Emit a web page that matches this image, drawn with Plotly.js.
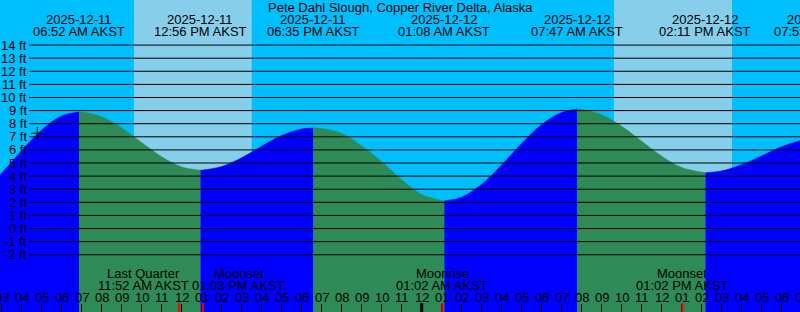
<!DOCTYPE html>
<html>
<head>
<meta charset="utf-8">
<script src="https://cdn.plot.ly/plotly-3.0.1.min.js"></script>
<style>html,body{margin:0;padding:0;background:#00BFFF;}#chart{width:800px;height:312px;}</style>
</head>
<body>
<div id="chart"></div>
<script>
// Hours since 2025-12-11 00:00 AKST, and tide level in feet
const tideTimes  = [2.915, 3, 4, 5, 6, 6.867, 7, 8, 9, 10, 11, 12, 12.933, 13, 14, 15, 16, 17, 18, 18.583,
                    19, 20, 21, 22, 23, 24, 25.133, 26, 27, 28, 29, 30, 31, 31.783, 32, 33, 34, 35, 36, 37,
                    38.183, 39, 40, 41, 42, 42.915];
const tideLevels = [4.10, 4.22, 5.94, 7.52, 8.59, 8.90, 8.89, 8.53, 7.68, 6.56, 5.48, 4.70, 4.45, 4.45, 4.73, 5.40, 6.28, 7.09, 7.59, 7.67,
                    7.63, 7.25, 6.30, 5.10, 3.72, 2.60, 2.10, 2.39, 3.37, 4.85, 6.49, 7.93, 8.86, 9.10, 9.09, 8.68, 7.80, 6.66, 5.52, 4.66,
                    4.26, 4.39, 4.86, 5.54, 6.24, 6.70];

// High / low tide events
const extremeTimes = [6.867, 12.933, 18.583, 25.133, 31.783, 38.183, 43.917];
const extremeDates = ['2025-12-11', '2025-12-11', '2025-12-11', '2025-12-12', '2025-12-12', '2025-12-12', '2025-12-12'];
const extremeClock = ['06:52 AM AKST', '12:56 PM AKST', '06:35 PM AKST', '01:08 AM AKST', '07:47 AM AKST', '02:11 PM AKST', '07:55 PM AKST'];

// Daylight
const sunriseTimes = [9.615, 33.615];
const sunsetTimes  = [15.50, 39.515];

// Moon events
const moonTimes  = [11.867, 13.05, 25.033, 37.033];
const moonNames  = ['Last Quarter', 'Moonset', 'Moonrise', 'Moonset'];
const moonClock  = ['11:52 AM AKST', '01:03 PM AKST', '01:02 AM AKST', '01:02 PM AKST'];

// Hour ticks
const hourTicks  = [3,4,5,6,7,8,9,10,11,12,13,14,15,16,17,18,19,20,21,22,23,24,25,26,27,28,29,30,31,32,33,34,35,36,37,38,39,40,41,42,43];
const hourLabels = ['03','04','05','06','07','08','09','10','11','12','01','02','03','04','05','06','07','08','09','10','11','12',
                    '01','02','03','04','05','06','07','08','09','10','11','12','01','02','03','04','05','06','07'];
const midnightTimes = [24];

// Level lines
const levelFeet = [-2,-1,0,1,2,3,4,5,6,7,8,9,10,11,12,13,14];

// Current-time mark
const nowTime = [4.78];
const nowLevel = [7.27];

const title = 'Pete Dahl Slough, Copper River Delta, Alaska';

// ---------- build ----------
const X_RANGE = [2.915, 42.915];
const Y_RANGE = [-6.37, 17.44];
const H = 312, W = 800;
const FONT = {family: 'Liberation Sans, Arial, sans-serif', size: 13, color: '#000'};
const BLUE = '#0000FF', GREEN = '#2E8B57';

const traces = [];
const bounds = [X_RANGE[0]].concat(extremeTimes.filter(t => t > X_RANGE[0] && t < X_RANGE[1])).concat([X_RANGE[1]]);
for (let s = 0; s < bounds.length - 1; s++) {
  const a = bounds[s], b = bounds[s + 1];
  const xs = [], ys = [];
  tideTimes.forEach((t, i) => { if (t >= a - 1e-9 && t <= b + 1e-9) { xs.push(t); ys.push(tideLevels[i]); } });
  const rising = ys[ys.length - 1] > ys[0];
  const col = rising ? BLUE : GREEN;
  traces.push({x: [a, b], y: [Y_RANGE[0] - 1, Y_RANGE[0] - 1], mode: 'lines', line: {width: 0}, hoverinfo: 'skip'});
  traces.push({x: xs, y: ys, mode: 'lines', line: {width: 0.6, color: col, shape: 'spline', smoothing: 1},
               fill: 'tonexty', fillcolor: col, hoverinfo: 'skip'});
}
traces.push({x: nowTime, y: nowLevel, mode: 'markers',
             marker: {symbol: 'cross-thin', size: 9, line: {width: 1, color: '#000'}}, hoverinfo: 'skip'});

const shapes = [];
sunriseTimes.forEach((t, i) => shapes.push({type: 'rect', xref: 'x', yref: 'paper', x0: t, x1: sunsetTimes[i], y0: 0, y1: 1,
  fillcolor: '#87CEEB', line: {width: 0}, layer: 'below'}));
levelFeet.forEach(v => shapes.push({type: 'line', xref: 'paper', yref: 'y', x0: 29.3 / W, x1: 1, y0: v, y1: v,
  line: {color: '#000', width: 1}, layer: 'above'}));
midnightTimes.forEach(t => shapes.push({type: 'line', xref: 'x', yref: 'paper', x0: t, x1: t, y0: 0, y1: 9 / H,
  line: {color: '#000', width: 3}, layer: 'above'}));
moonTimes.forEach(t => shapes.push({type: 'line', xref: 'x', yref: 'paper', x0: t, x1: t, y0: 0, y1: 9 / H,
  line: {color: '#FF0000', width: 2}, layer: 'above'}));

// x placement: data reference inside the axis range, paper fraction (same scale) outside it
function xpos(t) {
  if (t >= X_RANGE[0] && t <= X_RANGE[1]) return {xref: 'x', x: t};
  return {xref: 'paper', x: (t - X_RANGE[0]) / (X_RANGE[1] - X_RANGE[0])};
}

const ann = [];
const py = px => 1 - px / H;
ann.push({text: title, xref: 'paper', yref: 'paper', x: 0.5, y: py(7.5), xanchor: 'center', yanchor: 'middle', showarrow: false, font: FONT});
extremeTimes.forEach((t, i) => {
  ann.push(Object.assign({text: extremeDates[i], yref: 'paper', y: py(19.7), xanchor: 'center', yanchor: 'middle', showarrow: false, font: FONT}, xpos(t)));
  ann.push(Object.assign({text: extremeClock[i], yref: 'paper', y: py(31.3), xanchor: 'center', yanchor: 'middle', showarrow: false, font: FONT}, xpos(t)));
});
levelFeet.forEach(v => ann.push({text: v + ' ft', xref: 'paper', yref: 'y', x: 28 / W, y: v, xanchor: 'right', yanchor: 'middle',
  showarrow: false, font: FONT, borderpad: 0}));
hourTicks.forEach((t, i) => ann.push(Object.assign({text: hourLabels[i], yref: 'paper', y: py(297.7), xanchor: 'center', yanchor: 'middle',
  showarrow: false, font: FONT, borderpad: 0}, xpos(t))));
const moonShift = [-36, 36, 0, 0];
moonTimes.forEach((t, i) => {
  ann.push(Object.assign({text: moonNames[i], yref: 'paper', xshift: moonShift[i], y: py(273.3), xanchor: 'center', yanchor: 'middle', showarrow: false, font: FONT, borderpad: 0}, xpos(t)));
  ann.push(Object.assign({text: moonClock[i], yref: 'paper', xshift: moonShift[i], y: py(285.5), xanchor: 'center', yanchor: 'middle', showarrow: false, font: FONT, borderpad: 0}, xpos(t)));
});

const layout = {
  width: W, height: H, margin: {l: 0, r: 0, t: 0, b: 0, pad: 0},
  paper_bgcolor: '#00BFFF', plot_bgcolor: '#00BFFF', showlegend: false,
  xaxis: {range: X_RANGE, showgrid: false, zeroline: false, showline: false, ticks: 'inside', ticklen: 8, tickwidth: 1,
          tickcolor: '#000', tickmode: 'array', tickvals: hourTicks, showticklabels: false, fixedrange: true},
  yaxis: {range: Y_RANGE, visible: false, showgrid: false, zeroline: false, fixedrange: true},
  shapes: shapes, annotations: ann, font: FONT
};
Plotly.newPlot('chart', traces, layout, {staticPlot: true, displayModeBar: false});
</script>
</body>
</html>
